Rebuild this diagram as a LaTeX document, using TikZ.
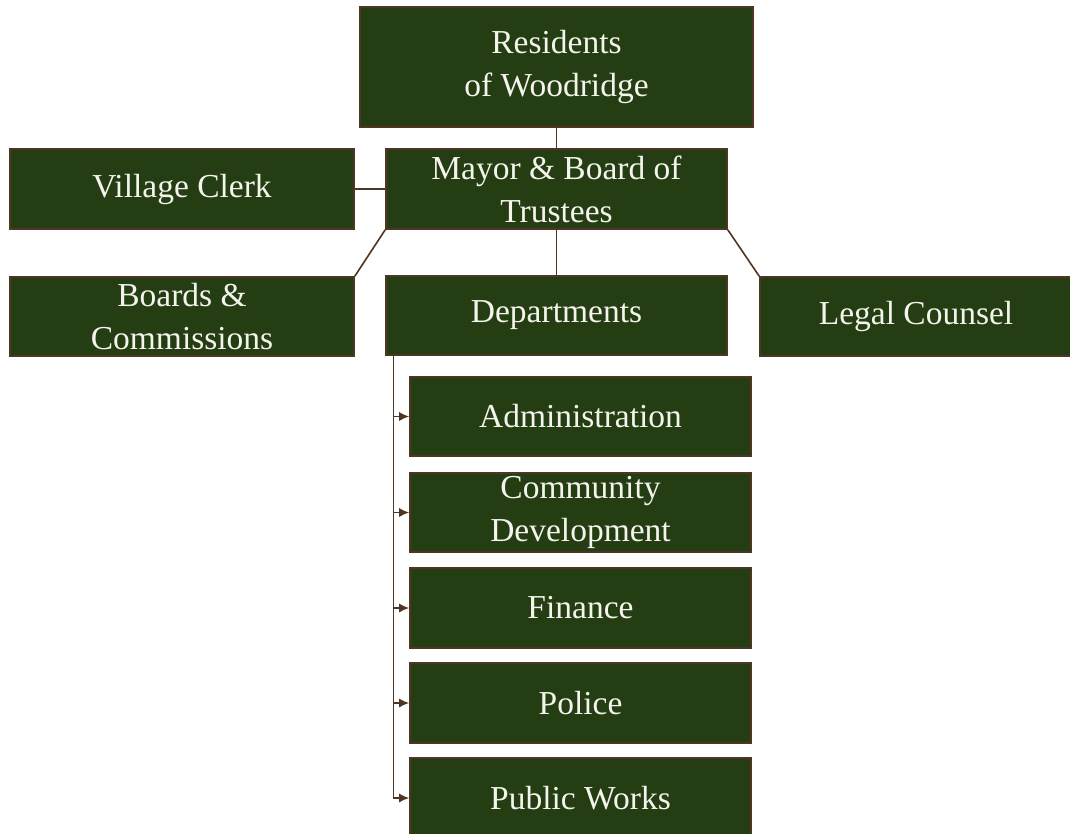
\documentclass[tikz,border=0pt]{standalone}
\usepackage{fontspec}
\setmainfont{Liberation Serif}
\usetikzlibrary{arrows.meta}
\definecolor{boxgreen}{HTML}{243D13}
\definecolor{edgebrown}{HTML}{4E3524}
\definecolor{labelwhite}{HTML}{F4F4EC}
\begin{document}
\begin{tikzpicture}[x=1pt,y=-1pt,
  orgbox/.style={draw=edgebrown, fill=boxgreen, line width=1.6pt,
    text=labelwhite, align=center, inner sep=0pt,
    font=\fontsize{33.5}{43}\selectfont},
  link/.style={draw=edgebrown, line width=1.6pt},
  feed/.style={draw=edgebrown, line width=1.4pt, -{Latex[length=10pt,width=9pt]}}]
\useasboundingbox (0,0) rectangle (1070,833);
% top level
\node[orgbox, minimum width=393pt, minimum height=120pt] (res) at (556.5,67) {Residents\\of Woodridge};
\node[orgbox, minimum width=341pt, minimum height=80pt] (mayor) at (556.5,189) {Mayor \& Board of\\Trustees};
\node[orgbox, minimum width=344pt, minimum height=80pt] (clerk) at (182,189) {Village Clerk};
% second level
\node[orgbox, minimum width=344pt, minimum height=79pt] (boards) at (182,316.5) {Boards \&\\Commissions};
\node[orgbox, minimum width=341pt, minimum height=79pt] (dept) at (556.5,315.5) {Departments};
\node[orgbox, minimum width=312pt, minimum height=79pt] (legal) at (916,316.5) {Legal Counsel};
% departments
\node[orgbox, minimum width=341pt, minimum height=79pt] (adm) at (580.5,416.5) {Administration};
\node[orgbox, minimum width=341pt, minimum height=79pt] (cd) at (580.5,512.5) {Community\\Development};
\node[orgbox, minimum width=341pt, minimum height=80pt] (fin) at (580.5,608) {Finance};
\node[orgbox, minimum width=341pt, minimum height=80pt] (pol) at (580.5,703) {Police};
\node[orgbox, minimum width=341pt, minimum height=80pt] (pw) at (580.5,798) {Public Works};
% connectors
\draw[link] (res.south) -- (mayor.north);
\draw[link] (clerk.east) -- (mayor.west);
\draw[link] (mayor.south) -- (dept.north);
\draw[link] (mayor.south west) -- (boards.north east);
\draw[link] (mayor.south east) -- (legal.north west);
\coordinate (spine) at ([xshift=8pt]dept.south west);
\foreach \d in {adm,cd,fin,pol,pw}
  \draw[feed] (spine) |- (\d.west);
\end{tikzpicture}
\end{document}
